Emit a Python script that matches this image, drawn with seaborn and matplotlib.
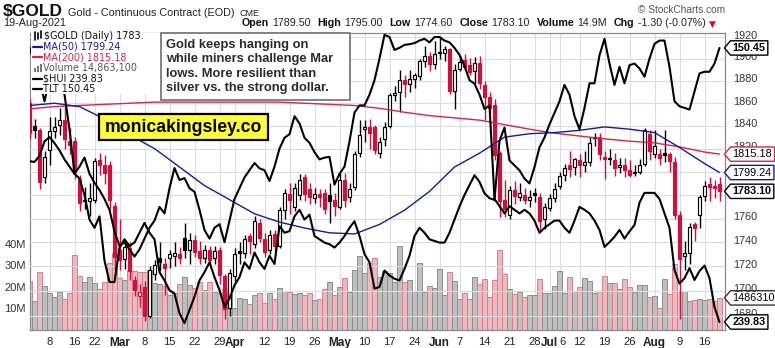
import numpy as np
import pandas as pd
import matplotlib
matplotlib.use("Agg")
import matplotlib.pyplot as plt
from matplotlib.lines import Line2D
from matplotlib.patches import Rectangle
from matplotlib.path import Path
from matplotlib.transforms import ScaledTranslation
from matplotlib.ticker import FixedLocator, FixedFormatter, NullLocator
import seaborn as sns

# ---------------- data ----------------
tick_pos = [4, 9, 13, 18, 23, 28, 33, 38, 41, 47, 52, 57, 62, 67, 72, 77, 82, 86, 91,
            96, 101, 104, 106, 110, 115, 120, 125, 130, 135]
tick_labels = ["8", "16", "22", "Mar", "8", "15", "22", "29", "Apr", "12", "19", "26", "May",
               "10", "17", "24", "Jun", "7", "14", "21", "28", "Jul", "6", "12", "19", "26",
               "Aug", "9", "16"]
month_names = ["Mar", "Apr", "May", "Jun", "Jul", "Aug"]

gold_open = [1860, 1840, 1836, 1795, 1819, 1835, 1841, 1845, 1827, 1827, 1794, 1775, 1775, 1776, 1810, 1806, 1806, 1771,
             1734, 1726, 1735, 1709, 1696, 1703, 1680, 1714, 1727, 1722, 1727, 1729, 1730, 1744, 1734, 1742, 1733, 1727, 1734, 1727, 1734, 1712, 1686,
             1712, 1733, 1731, 1745, 1739, 1756, 1743, 1734, 1747, 1737, 1767, 1781, 1770, 1780, 1795, 1785, 1777, 1781, 1782, 1780, 1776,
             1770, 1793, 1778, 1787, 1816, 1837, 1839, 1839, 1816, 1828, 1840, 1867, 1870, 1881, 1877, 1882, 1884, 1898, 1903, 1895,
             1905, 1905, 1909, 1871, 1891, 1899, 1894, 1889, 1896, 1876, 1866, 1858, 1816, 1776, 1763, 1784, 1778, 1780, 1776, 1782, 1778, 1760,
             1769, 1777, 1788, 1797, 1806, 1804, 1810, 1806, 1808, 1830, 1830, 1813, 1811, 1810, 1804, 1806, 1801, 1799, 1800, 1807, 1833,
             1815, 1815, 1816, 1815, 1808, 1763, 1729, 1731, 1755, 1763, 1779, 1789, 1788, 1789.5]
gold_high = [1864, 1846, 1838, 1818, 1848, 1848, 1856, 1857, 1838, 1830, 1797, 1787, 1790, 1812, 1816, 1814, 1809, 1774,
             1760, 1740, 1740, 1712, 1706, 1708, 1720, 1725, 1740, 1727, 1734, 1740, 1736, 1756, 1748, 1746, 1741, 1738, 1737, 1737, 1736, 1714, 1718,
             1735, 1740, 1746, 1748, 1762, 1760, 1748, 1750, 1750, 1770, 1785, 1790, 1790, 1798, 1798, 1790, 1786, 1785, 1785, 1790, 1782,
             1799, 1799, 1790, 1818, 1845, 1845, 1846, 1841, 1830, 1843, 1869, 1875, 1890, 1885, 1890, 1887, 1900, 1912, 1906, 1916,
             1919, 1912, 1910, 1895, 1903, 1904, 1901, 1902, 1903, 1880, 1870, 1864, 1818, 1793, 1788, 1792, 1790, 1786, 1784, 1786, 1782, 1773,
             1781, 1790, 1800, 1807, 1818, 1812, 1815, 1818, 1830, 1834, 1834, 1818, 1820, 1816, 1812, 1812, 1810, 1806, 1811, 1838, 1836,
             1836, 1820, 1836, 1817, 1813, 1766, 1741, 1756, 1757, 1780, 1792, 1795, 1793, 1795]
gold_low = [1828, 1829, 1785, 1790, 1806, 1829, 1832, 1820, 1815, 1794, 1766, 1768, 1762, 1773, 1797, 1789, 1768, 1716,
            1717, 1718, 1709, 1696, 1687, 1676, 1678, 1709, 1716, 1697, 1719, 1720, 1722, 1727, 1722, 1728, 1722, 1723, 1721, 1722, 1706, 1677, 1680,
            1706, 1722, 1727, 1730, 1735, 1740, 1728, 1730, 1732, 1735, 1760, 1764, 1766, 1776, 1775, 1772, 1773, 1770, 1764, 1756, 1762,
            1768, 1770, 1774, 1784, 1813, 1826, 1820, 1815, 1812, 1822, 1838, 1862, 1852, 1866, 1870, 1874, 1881, 1893, 1889, 1891,
            1900, 1898, 1868, 1855, 1889, 1890, 1885, 1877, 1873, 1845, 1851, 1810, 1761, 1761, 1760, 1772, 1775, 1772, 1770, 1774, 1750, 1751,
            1766, 1774, 1785, 1792, 1795, 1797, 1795, 1800, 1805, 1822, 1810, 1794, 1806, 1796, 1799, 1795, 1795, 1796, 1798, 1805, 1810,
            1812, 1806, 1808, 1800, 1760, 1677, 1717, 1722, 1741, 1752, 1775, 1775, 1777, 1774.6]
gold_close = [1834, 1836, 1791, 1813, 1835, 1839, 1845, 1828, 1823, 1801, 1773, 1776, 1777, 1809, 1806, 1799, 1776, 1728,
              1725, 1736, 1716, 1701, 1699, 1680, 1717, 1721, 1724, 1719, 1730, 1731, 1727, 1734, 1742, 1732, 1727, 1734, 1725, 1733, 1713, 1685, 1715,
              1730, 1731, 1743, 1741, 1758, 1744, 1732, 1746, 1737, 1767, 1782, 1776, 1786, 1793, 1781, 1778, 1781, 1778, 1768, 1775, 1771,
              1793, 1776, 1785, 1815, 1832, 1839, 1834, 1819, 1826, 1839, 1867, 1869, 1881, 1877, 1882, 1885, 1898, 1903, 1895, 1904,
              1906, 1909, 1871, 1890, 1897, 1893, 1888, 1896, 1878, 1866, 1856, 1814, 1775, 1768, 1784, 1779, 1782, 1776, 1778, 1780, 1758, 1770,
              1777, 1785, 1796, 1803, 1802, 1811, 1806, 1808, 1825, 1829, 1815, 1811, 1812, 1803, 1806, 1801, 1797, 1800, 1806, 1836, 1818,
              1822, 1812, 1814, 1809, 1763, 1726, 1731, 1753, 1752, 1778, 1788, 1787, 1786, 1783.1]
volume_m = [22.7, 13.4, 26.7, 20.2, 17.3, 15.3, 17.6, 14.2, 17.0, 34.7, 24.8, 22.2, 24.7, 21.8, 18.8, 22.2, 31.0, 35.5,
            24.1, 23.1, 28.0, 27.3, 27.0, 26.7, 27.8, 21.9, 21.3, 20.4, 16.3, 16.9, 21.2, 24.4, 20.7, 19.4, 22.2, 18.5, 22.2, 17.4, 17.3, 18.8, 16.7,
            10.1, 14.8, 14.4, 11.9, 16.4, 17.3, 12.5, 17.2, 14.2, 19.3, 18.2, 17.4, 16.7, 16.9, 16.4, 17.0, 13.9, 14.4, 18.8, 22.2, 16.1,
            19.9, 24.1, 17.6, 27.8, 34.3, 26.4, 30.9, 33.3, 24.4, 27.5, 26.4, 22.4, 38.9, 22.4, 23.1, 18.2, 31.2, 17.7, 20.4, 19.3,
            28.2, 16.2, 26.7, 22.7, 14.4, 17.3, 14.4, 24.4, 21.3, 23.5, 15.3, 23.0, 37.0, 25.9, 18.8, 16.5, 17.6, 15.1, 16.0, 16.0, 23.5, 17.1,
            17.1, 20.4, 27.3, 17.1, 24.4, 18.2, 19.7, 23.9, 22.5, 17.1, 18.2, 24.8, 21.6, 21.6, 19.0, 23.5, 19.9, 17.7, 20.8, 20.8, 15.1,
            15.7, 10.0, 23.5, 16.7, 30.6, 18.2, 18.2, 13.6, 13.9, 14.2, 13.9, 14.2, 13.4, 14.86]
hui = [284.5, 284.3, 286, 290, 291.2, 289.5, 287.5, 285, 283, 281, 283, 285.5, 281, 278.5, 276.5, 274, 271, 265,
       261, 262, 260, 258, 260, 263, 266, 268, 271.8, 270, 277, 282.6, 279.3, 279.8, 277, 276, 271, 265.4, 263, 266, 267, 262, 268,
       274, 277, 280, 282, 284, 282.5, 282, 279, 283, 288, 291, 292, 297, 295, 291, 289.6, 287, 285, 285.5, 285.7, 278,
       281, 283, 290, 298, 300, 300, 303, 307, 313, 319.6, 319, 315.4, 316, 316.8, 317, 317.3, 318, 318.5, 317.5, 319,
       319, 318, 317.5, 316, 314, 311, 307, 306, 303, 299, 300, 274, 272, 270, 272, 271, 270, 271, 270, 268, 264.6, 266,
       267, 268, 268, 266, 264.6, 268, 271.8, 271, 270, 268, 265.4, 260.7, 262, 263.5, 265.4, 263, 265, 266.8, 273, 275.7, 275.7,
       275.7, 274, 270, 266, 254.3, 250.5, 252, 254.8, 251.5, 254, 255.5, 252, 244, 239.83]
tlt = [150.5, 149.5, 148.5, 147.2, 148.6, 149.2, 149.0, 147.6, 145.5, 142.8, 142.5, 141.5, 140.0, 139.5, 140.2, 137.5, 136.2, 136.2,
       138.3, 138.8, 138.4, 138.6, 139.2, 139.8, 139.2, 138.8, 136.8, 136.3, 135.7, 135.5, 134.3, 133.7, 134.5, 135.3, 136.3, 136.8, 137.4, 136.5, 135.7, 134.7, 135.2,
       136.0, 136.5, 137.4, 137.0, 138.0, 137.4, 137.0, 137.8, 137.3, 139.6, 139.2, 139.3, 140.2, 140.6, 140.0, 140.3, 139.0, 138.8, 138.6, 138.5, 138.3,
       138.6, 139.0, 139.5, 139.9, 139.0, 137.9, 137.4, 135.8, 135.9, 136.9, 136.6, 136.4, 136.3, 137.0, 137.8, 139.0, 139.5, 139.2, 138.8, 138.7,
       138.6, 138.6, 139.2, 140.0, 140.8, 141.5, 142.1, 142.7, 142.3, 141.6, 141.3, 141.2, 144.8, 145.6, 143.6, 143.3, 143.0, 142.5, 142.2, 143.2, 144.4, 145.0,
       145.8, 146.5, 147.2, 148.2, 147.6, 146.3, 145.5, 146.8, 148.3, 148.3, 150.0, 151.0, 149.5, 148.2, 149.3, 148.3, 149.4, 149.5, 149.2, 148.7, 149.8,
       150.7, 150.9, 150.9, 149.3, 147.2, 146.9, 146.8, 146.7, 147.8, 148.9, 149.0, 149.0, 149.5, 150.45]
ma_pos = [0, 5, 10, 15, 20, 25, 30, 35, 40, 45, 50, 55, 60, 65, 70, 75, 80, 85, 90, 95, 100,
          105, 110, 115, 120, 125, 130, 135, 138]
ma50 = [1858, 1860, 1857, 1846, 1832, 1820, 1804, 1788, 1776, 1764, 1757, 1752, 1748, 1747, 1755, 1767,
        1783, 1804, 1816, 1830, 1833, 1834, 1836, 1839, 1837, 1834, 1821, 1807, 1799.24]
ma200 = [1855, 1857, 1858, 1859, 1860, 1861, 1861, 1861, 1861, 1861, 1861, 1860, 1859, 1858, 1855.5, 1852,
         1849, 1847, 1845, 1841, 1837, 1833.5, 1831, 1828.5, 1826.5, 1825, 1821.5, 1817, 1815.18]
price_ticks = [1680, 1700, 1720, 1740, 1760, 1780, 1800, 1820, 1840, 1860, 1880, 1900, 1920]
price_hidden = [1780, 1800]   # covered by the value tags in the reference
vol_ticks = [10, 20, 30, 40]
annotation_lines = ["Gold keeps hanging on", "while miners challenge Mar",
                    "lows. More resilient than", "silver vs. the strong dollar."]

# ---------------- style ----------------
sns.set_theme(style="white")
plt.rcParams['font.family'] = ['Liberation Sans', 'DejaVu Sans']
W, H = 775, 348
RED = '#d10f3c'
BLUE = '#1a1a9a'
MARED = '#d8244e'
GRID = '#dcdcdc'

fig = plt.figure(figsize=(W / 100, H / 100), dpi=100)
fig.patch.set_facecolor('white')
renderer = fig.canvas.get_renderer()


def P(x, y):
    return (x / W, 1 - y / H)


L, R, T, B = 30, 725, 33, 330
ax_vol = fig.add_axes([L / W, 1 - B / H, (R - L) / W, (B - T) / H])
ax = ax_vol.twinx()
ax_hui = ax_vol.twinx()
ax_tlt = ax_vol.twinx()

df = pd.DataFrame({"o": gold_open, "h": gold_high, "l": gold_low, "c": gold_close,
                   "vol": volume_m, "hui": hui, "tlt": tlt})
df["i"] = np.arange(len(df))
prev = np.r_[df.o.iloc[0], df.c.values[:-1]]
down = df.c.values < prev
hollow = df.c.values > df.o.values
col = np.where(down, RED, 'black')

# volume
vfc = np.where(down, '#ebbac1', '#bfbfbf')
vec = np.where(down, '#d6808c', '#8e8e8e')
ax_vol.bar(df.i, df.vol, width=0.92, color=vfc, edgecolor=vec, linewidth=0.7, zorder=2)
ax_vol.set_ylim(0, 137.5)

# candles
ax.set_yscale('log')
ax.vlines(df.i, df.l, df.h, colors=col, lw=1.0, zorder=3)
bot = np.minimum(df.o, df.c)
hgt = np.maximum(np.abs(df.c - df.o), 0.6)
face = np.where(hollow, 'white', col)
ax.bar(df.i, hgt, bottom=bot, width=0.78, color=face, edgecolor=col, linewidth=0.85, zorder=4)
sns.lineplot(x=ma_pos, y=ma200, ax=ax, color=MARED, lw=1.0, zorder=5)
sns.lineplot(x=ma_pos, y=ma50, ax=ax, color=BLUE, lw=1.0, zorder=5)
ax.set_ylim(1668.4, 1923.7)

# overlays
sns.lineplot(data=df, x="i", y="hui", ax=ax_hui, color='black', lw=1.5)
sns.lineplot(data=df, x="i", y="tlt", ax=ax_tlt, color='black', lw=1.5)
ax_hui.set_ylim(237.61, 320.11)
ax_tlt.set_ylim(133.28, 151.36)
for a in (ax_hui, ax_tlt):
    a.set_axis_off()

for a in (ax_vol, ax, ax_hui, ax_tlt):
    a.set_xlim(0.1, 139.1)
    a.set_xlabel("")
    a.set_ylabel("")

# axes styling
for s in ax_vol.spines.values():
    s.set_color('#8a8a8a')
    s.set_linewidth(0.9)
for s in ax.spines.values():
    s.set_visible(False)

ax_vol.xaxis.set_major_locator(FixedLocator(tick_pos))
ax_vol.xaxis.set_major_formatter(FixedFormatter(tick_labels))
ax_vol.tick_params(axis='x', length=3, color='#999999', pad=2, labelsize=8, labelcolor='#222222')
nudge = ScaledTranslation(2.5 / 100, 0, fig.dpi_scale_trans)
xlabels = ax_vol.get_xticklabels()
for k, t in enumerate(xlabels):
    if t.get_text() in month_names:
        t.set_fontweight('bold')
        t.set_fontsize(8.5)
    # the day label right after a month label sits tight against it ("Jul6")
    if k > 0 and xlabels[k - 1].get_text() in month_names and tick_pos[k] - tick_pos[k - 1] <= 2:
        t.set_transform(t.get_transform() + nudge)
ax_vol.yaxis.set_major_locator(FixedLocator(vol_ticks))
ax_vol.yaxis.set_major_formatter(FixedFormatter([f"{v}M" for v in vol_ticks]))
ax_vol.tick_params(axis='y', length=0, pad=3, labelsize=8, labelcolor='#333333')
ax_vol.grid(axis='x', color=GRID, lw=0.8)
ax_vol.grid(axis='y', visible=False)
ax_vol.set_axisbelow(True)

ax.yaxis.set_major_locator(FixedLocator(price_ticks))
ax.yaxis.set_major_formatter(FixedFormatter(["" if p in price_hidden else str(p) for p in price_ticks]))
ax.yaxis.set_minor_locator(NullLocator())
ax.tick_params(axis='y', which='both', length=0, pad=6, labelsize=7.8, labelcolor='#333333')
ax.grid(axis='y', which='major', color=GRID, lw=0.8)
ax.set_axisbelow(True)
# StockCharts sets the price labels slightly above their grid line
lift = ScaledTranslation(0, 2.5 / 100, fig.dpi_scale_trans)
for t in ax.get_yticklabels():
    t.set_transform(t.get_transform() + lift)


# value tags at right edge
class TagBox:
    def __init__(self, pad=0.2):
        self.pad = pad

    def __call__(self, x0, y0, width, height, mutation_size):
        pad = mutation_size * self.pad
        x0 -= pad
        y0 -= pad
        width += 2 * pad
        height += 2 * pad
        x1, y1 = x0 + width, y0 + height
        tip = height * 0.42
        return Path([(x0, y0), (x1, y0), (x1, y1), (x0, y1), (x0 - tip, (y0 + y1) / 2), (x0, y0)],
                    closed=True)


def tag(a, val, text, ec, bold=False):
    a.text(1.011, val, text, transform=a.get_yaxis_transform(), ha='left', va='center',
           fontsize=7.8, fontweight='bold' if bold else 'normal', color='black', clip_on=False,
           zorder=20, bbox=dict(boxstyle=TagBox(), fc='white', ec=ec, lw=1.0))


tag(ax_tlt, tlt[-1], f"{tlt[-1]:.2f}", 'black', True)
tag(ax, ma200[-1], f"{ma200[-1]:.2f}", MARED)
tag(ax, ma50[-1], f"{ma50[-1]:.2f}", BLUE)
tag(ax, gold_close[-1], f"{gold_close[-1]:.2f}", 'black', True)
tag(ax_vol, volume_m[-1], "1486310", '#333333')
tag(ax_hui, hui[-1], f"{hui[-1]:.2f}", 'black', True)


# ---------------- header ----------------
def seq(x, y, chunks):
    for s, kw, gap in chunks:
        t = fig.text(*P(x, y), s, ha='left', va='baseline', **kw)
        x += t.get_window_extent(renderer=renderer).width + gap


seq(3, 16.5, [("$GOLD", dict(fontsize=12.5, fontweight='bold', color='#111111'), 5),
              ("Gold - Continuous Contract (EOD)", dict(fontsize=7.8, color='#222222'), 5),
              ("CME", dict(fontsize=6.5, color='#222222'), 0)])
fig.text(*P(3, 26.5), "19-Aug-2021", ha='left', va='baseline', fontsize=7.8, color='#222222')
bold = dict(fontsize=7.7, fontweight='bold', color='#111111')
norm = dict(fontsize=7.7, color='#222222')
seq(242, 26.5, [("Open", bold, 3), ("1789.50", norm, 7), ("High", bold, 3), ("1795.00", norm, 7),
                ("Low", bold, 3), ("1774.60", norm, 7), ("Close", bold, 3), ("1783.10", norm, 7),
                ("Volume", bold, 3), ("14.9M", norm, 7), ("Chg", bold, 3), ("-1.30 (-0.07%)", norm, 4),
                ("▼", dict(fontsize=6.5, color=RED, family=['DejaVu Sans']), 0)])
fig.text(*P(725, 13), "© StockCharts.com", ha='right', va='baseline', fontsize=7.3, color='#555555')

# ---------------- legend (top-left, white backing) ----------------
fig.add_artist(Rectangle(P(31, 93.5), 130 / W, 60 / H, transform=fig.transFigure,
                         fc='white', ec='none', zorder=2))
rows = [36, 46.7, 57.3, 68, 78.6, 89.2]
leg_font = dict(fontsize=6.9, family=['DejaVu Sans'], va='center', ha='left')
for xx, y0, y1 in [(34.5, 32, 40), (37.5, 33, 39), (40.5, 31, 38)]:
    fig.add_artist(Line2D([xx / W, xx / W], [1 - y0 / H, 1 - y1 / H], transform=fig.transFigure,
                          color='black', lw=1.2, zorder=3))
fig.text(*P(44, rows[0]), "$GOLD (Daily) 1783.", color='#111111', zorder=3, **leg_font)
legend_rows = [("MA(50) 1799.24", BLUE), ("MA(200) 1815.18", MARED)]
for (label, c), y in zip(legend_rows, rows[1:3]):
    fig.add_artist(Line2D([33 / W, 42 / W], [1 - y / H] * 2, transform=fig.transFigure,
                          color=c, lw=1.6, zorder=3))
    fig.text(*P(43, y), label, color=c, zorder=3, **leg_font)
for k, hh in enumerate([4, 6, 8]):
    xx = 34 + 3 * k
    fig.add_artist(Rectangle(P(xx, rows[3] + 4), 2 / W, hh / H, transform=fig.transFigure,
                             fc='#777777', ec='none', zorder=3))
fig.text(*P(43, rows[3]), "Volume 14,863,100", color='#555555', zorder=3, **leg_font)
for label, y in [(f"$HUI {hui[-1]:.2f}", rows[4]), (f"TLT {tlt[-1]:.2f}", rows[5])]:
    fig.add_artist(Line2D([33 / W, 42 / W], [1 - y / H] * 2, transform=fig.transFigure,
                          color='black', lw=1.6, zorder=3))
    fig.text(*P(43, y), label, color='#111111', zorder=3, **leg_font)

# ---------------- annotation boxes ----------------
fig.add_artist(Rectangle(P(161, 100), 189 / W, 67 / H, transform=fig.transFigure,
                         fc='white', ec='#7a7a7a', lw=1.3, zorder=4))
for k, line in enumerate(annotation_lines):
    fig.text(*P(166, 45 + 14.4 * k), line, ha='left', va='center', fontsize=9.3,
             fontweight='bold', color='#2a2a2a', zorder=5)

fig.add_artist(Rectangle(P(99, 140), 169 / W, 26 / H, transform=fig.transFigure,
                         fc='#ffff33', ec='black', lw=1.6, zorder=4))
fig.text(*P(183.5, 127.5), "monicakingsley.co", ha='center', va='center', fontsize=12.7,
         fontweight='bold', color='black', zorder=5)

fig.savefig("out.png", dpi=100, facecolor='white')
